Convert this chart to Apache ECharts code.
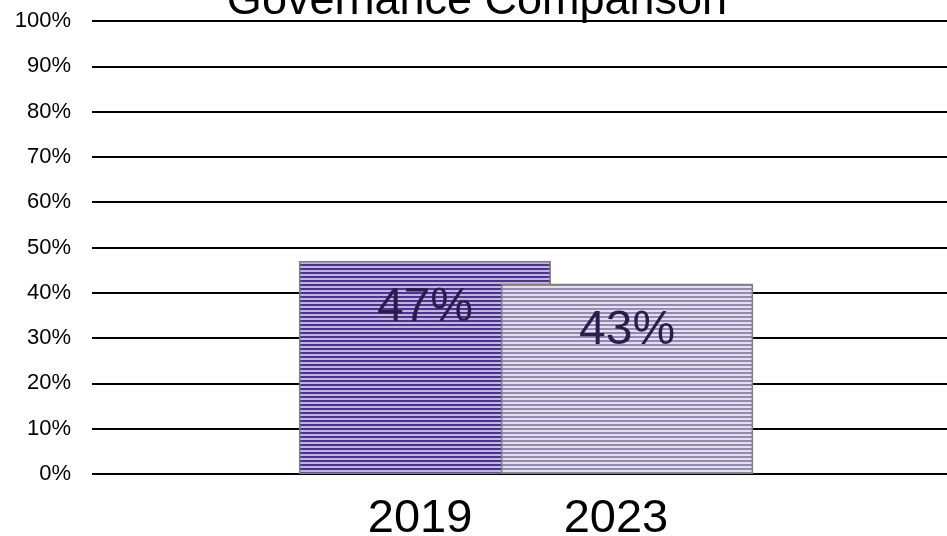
<!DOCTYPE html>
<html>
<head>
<meta charset="utf-8">
<script src="https://cdn.jsdelivr.net/npm/echarts@6/dist/echarts.min.js"></script>
<style>
html,body{margin:0;padding:0;background:#fff;}
#main{width:947px;height:536px;}
</style>
</head>
<body>
<div id="main"></div>
<script>
var title = 'Governance Comparison';
var years = ['2019', '2023'];
var values = [47, 42];
var valueLabels = ['47%', '43%'];
var yTicks = [0, 10, 20, 30, 40, 50, 60, 70, 80, 90, 100];

function stripe(dark, light) {
  var c = document.createElement('canvas');
  c.width = 4; c.height = 4;
  var g = c.getContext('2d');
  g.fillStyle = light; g.fillRect(0, 0, 4, 4);
  g.fillStyle = dark; g.fillRect(0, 0, 4, 2);
  return c;
}
var fills = [stripe('#4a3688', '#c2b3e4'), stripe('#938ab3', '#e4e0ee')];

var chart = echarts.init(document.getElementById('main'));
var series = years.map(function (y, i) {
  return {
    type: 'bar',
    name: y,
    data: [values[i]],
    barWidth: 252,
    barGap: '-19.8%',
    itemStyle: {
      color: { image: fills[i], repeat: 'repeat' },
      borderColor: '#7f7f7f',
      borderWidth: 1.5
    },
    label: {
      show: true,
      position: 'insideTop',
      distance: 23,
      formatter: valueLabels[i],
      color: '#2a1c4c',
      fontSize: 48,
      fontFamily: 'Liberation Sans'
    },
    animation: false
  };
});

chart.setOption({
  animation: false,
  backgroundColor: '#fff',
  grid: { left: 92, right: -13, top: 21, bottom: 62, containLabel: false, outerBoundsMode: 'none' },
  xAxis: {
    type: 'category',
    data: [years.join('       ')],
    axisLine: { show: false },
    axisTick: { show: false },
    axisLabel: {
      color: '#000',
      fontSize: 47,
      fontFamily: 'Liberation Sans',
      margin: 22,
      padding: [0, 16, 0, 0]
    }
  },
  yAxis: {
    type: 'value',
    min: yTicks[0],
    max: yTicks[yTicks.length - 1],
    interval: 10,
    axisLine: { show: false },
    axisTick: { show: false },
    splitLine: { show: true, lineStyle: { color: '#000', width: 2 } },
    axisLabel: {
      color: '#000',
      fontSize: 22,
      fontFamily: 'Liberation Sans',
      margin: 21,
      formatter: '{value}%'
    }
  },
  graphic: [{
    type: 'text',
    x: 477,
    y: 2,
    z: 100,
    style: {
      text: title,
      align: 'center',
      verticalAlign: 'middle',
      fontSize: 45,
      fontFamily: 'Liberation Sans',
      fill: '#000'
    }
  }],
  series: series
});
</script>
</body>
</html>
